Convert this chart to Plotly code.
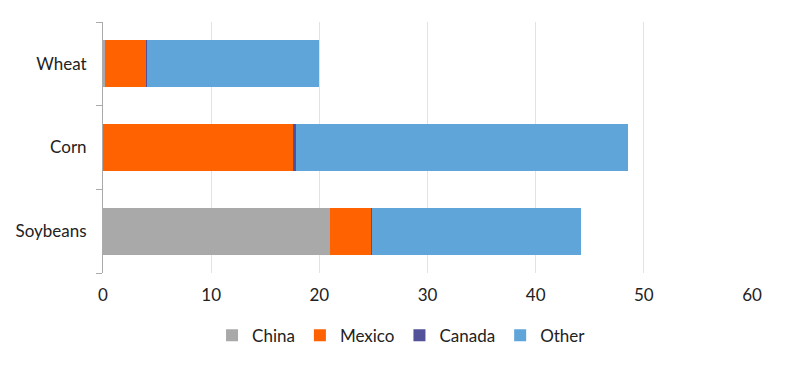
import plotly.graph_objects as go

categories = ["Soybeans", "Corn", "Wheat"]
china = [21.0, 0.0, 0.15]
mexico = [3.8, 17.6, 3.85]
canada = [0.08, 0.2, 0.05]
other = [19.3, 30.7, 15.95]

series = [
    ("China", china, "#A9A9A9"),
    ("Mexico", mexico, "#FF6200"),
    ("Canada", canada, "#525199"),
    ("Other", other, "#60A5D9"),
]

fig = go.Figure()
for name, vals, color in series:
    fig.add_trace(go.Bar(
        y=categories, x=vals, name=name, orientation="h",
        marker=dict(color=color, line=dict(width=0)),
    ))

fig.update_layout(
    barmode="stack",
    bargap=0.44,
    width=792, height=360,
    margin=dict(l=95, r=48, t=14, b=95, autoexpand=False),
    paper_bgcolor="white", plot_bgcolor="white",
    font=dict(family="Lato, Noto Sans, sans-serif", size=17, color="#222222"),
    showlegend=True,
    legend=dict(orientation="h", x=0.46, xanchor="center", y=-0.25, yanchor="middle",
                font=dict(size=17), traceorder="normal", itemwidth=30,
                tracegroupgap=0),
    xaxis=dict(range=[0, 60], dtick=10, showgrid=True, gridcolor="#E3E3E3",
               gridwidth=1, zeroline=False, showline=False, ticks="",
               ticklabelstandoff=10,
               tickfont=dict(size=17), automargin=False),
    yaxis=dict(showline=True, linecolor="#AAAAAA", linewidth=1,
               ticks="outside", tickson="boundaries", ticklen=6,
               tickcolor="#AAAAAA", showgrid=False, ticklabelstandoff=12,
               tickfont=dict(size=17), automargin=False),
)

fig.write_html("out.html")
